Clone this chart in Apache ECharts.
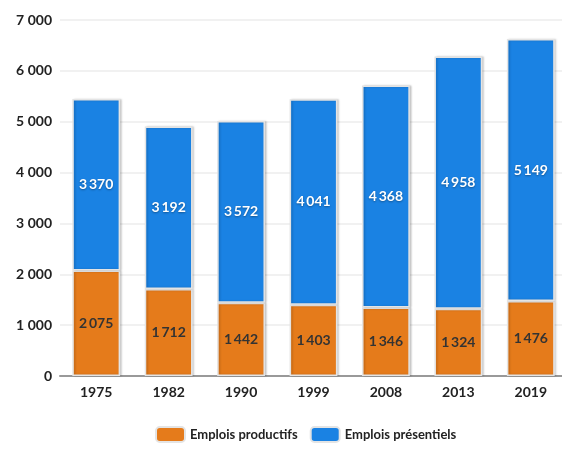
<!DOCTYPE html>
<html>
<head>
<meta charset="utf-8">
<script src="https://cdn.jsdelivr.net/npm/echarts@6/dist/echarts.min.js"></script>
<style>
  html, body { margin: 0; padding: 0; background: #fff; overflow: hidden; }
  #chart { width: 570px; height: 450px; }
</style>
</head>
<body>
<div id="chart"></div>
<script>
// annees
var years = ['1975', '1982', '1990', '1999', '2008', '2013', '2019'];
// emplois productifs
var productifs = [2075, 1712, 1442, 1403, 1346, 1324, 1476];
// emplois presentiels
var presentiels = [3370, 3192, 3572, 4041, 4368, 4958, 5149];

function fmt(v) {
  var s = String(v);
  if (s.length > 3) s = s.slice(0, s.length - 3) + '\u2009' + s.slice(s.length - 3);
  return s;
}

var font = 'Lato, DejaVu Sans, sans-serif';

var chart = echarts.init(document.getElementById('chart'));
var option = {
  animation: false,
  grid: { left: 60, width: 507, top: 20, height: 356 },
  legend: {
    bottom: 2,
    left: 150,
    itemWidth: 29,
    itemHeight: 15,
    itemGap: 12,
    icon: 'roundRect',
    textStyle: { fontFamily: font, fontSize: 13, fontWeight: 'bold', color: '#222' },
    data: ['Emplois productifs', 'Emplois présentiels']
  },
  xAxis: {
    type: 'category',
    data: years,
    axisLine: { lineStyle: { color: '#999', width: 2 } },
    axisTick: { show: false },
    axisLabel: { fontFamily: font, fontSize: 14, fontWeight: 'bold', color: '#222', margin: 9 }
  },
  yAxis: {
    type: 'value',
    min: 0,
    max: 7000,
    interval: 1000,
    axisLine: { show: false },
    axisTick: { show: false },
    splitLine: { lineStyle: { color: '#ececec', width: 1.5 } },
    axisLabel: {
      fontFamily: font, fontSize: 14, fontWeight: 'bold', color: '#222', margin: 8,
      formatter: function (v) { return v >= 1000 ? fmt(v).replace('\u2009', ' ') : String(v); }
    }
  },
  series: [
    {
      name: 'Emplois productifs',
      type: 'bar',
      stack: 'emplois',
      barWidth: '66%',
      data: productifs,
      itemStyle: {
        color: '#e57b1b', borderColor: '#e4e4e4', borderWidth: 1.5,
        shadowColor: 'rgba(0,0,0,0.18)', shadowBlur: 2, shadowOffsetX: 1.5
      },
      label: {
        show: true,
        position: 'inside',
        fontFamily: font,
        fontSize: 14,
        fontWeight: 'bold',
        color: '#333',
        formatter: function (p) { return fmt(p.value); }
      }
    },
    {
      name: 'Emplois présentiels',
      type: 'bar',
      stack: 'emplois',
      barWidth: '66%',
      data: presentiels,
      itemStyle: {
        color: '#1a82e3', borderColor: '#e4e4e4', borderWidth: 1.5,
        shadowColor: 'rgba(0,0,0,0.18)', shadowBlur: 2, shadowOffsetX: 1.5
      },
      label: {
        show: true,
        position: 'inside',
        fontFamily: font,
        fontSize: 14,
        fontWeight: 'bold',
        color: '#fff',
        textShadowColor: 'rgba(0,0,0,0.35)',
        textShadowBlur: 2,
        textShadowOffsetY: 1,
        formatter: function (p) { return fmt(p.value); }
      }
    }
  ]
};
chart.setOption(option);
</script>
</body>
</html>
